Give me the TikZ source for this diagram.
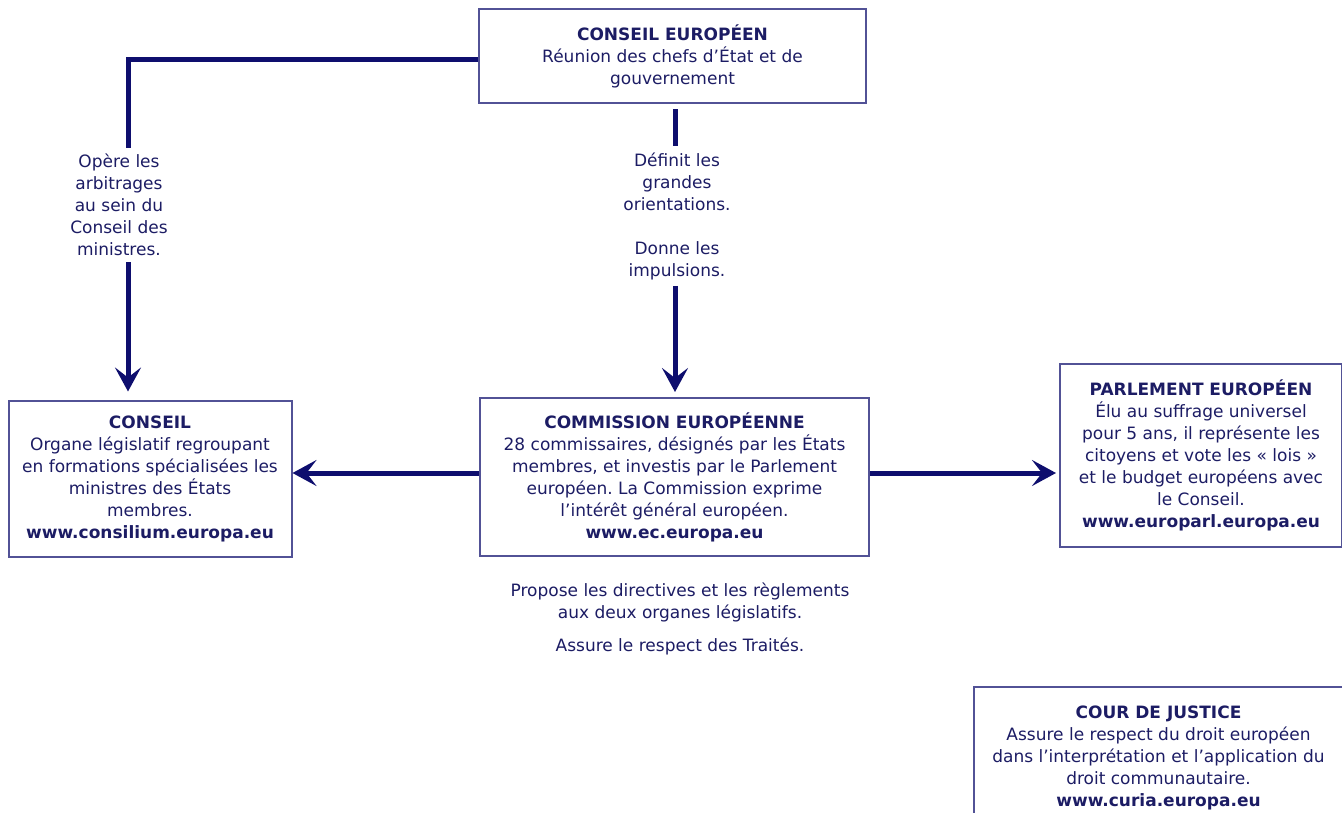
\documentclass[tikz,border=0pt]{standalone}
\usepackage{fontspec}
\setmainfont{DejaVu Sans}
\usepackage{tikz}
\usetikzlibrary{arrows.meta}
\definecolor{euNavy}{RGB}{14,14,110}
\definecolor{euText}{RGB}{28,28,100}
\definecolor{euFrame}{RGB}{82,82,150}
\frenchspacing
\begin{document}
\begin{tikzpicture}[x=1pt,y=-1pt]
	\path [use as bounding box, clip] (0,0) rectangle (1342,812);
	\begin{scope}[every node/.style = {draw=euFrame, line width=2pt, text=euText,
		align=center, inner sep=0pt, font=\fontsize{17}{22}\selectfont}]
		\node [minimum width=387, minimum height=94] (CE) at (672.5,56)
			{\textbf{CONSEIL EUROPÉEN}\\Réunion des chefs d’État et de\\gouvernement};
		\node [minimum width=283, minimum height=156] (CO) at (150,478.5)
			{\textbf{CONSEIL}\\Organe législatif regroupant\\en formations spécialisées les\\ministres des États\\membres.\\\textbf{www.consilium.europa.eu}};
		\node [minimum width=389, minimum height=158] (COM) at (674.5,477)
			{\textbf{COMMISSION EUROPÉENNE}\\28 commissaires, désignés par les États\\membres, et investis par le Parlement\\européen. La Commission exprime\\l’intérêt général européen.\\\textbf{www.ec.europa.eu}};
		\node [minimum width=282, minimum height=183] (PE) at (1201,455.5)
			{\textbf{PARLEMENT EUROPÉEN}\\Élu au suffrage universel\\pour 5 ans, il représente les\\citoyens et vote les « lois »\\et le budget européens avec\\le Conseil.\\\textbf{www.europarl.europa.eu}};
		\node [minimum width=369, minimum height=142] (CJ) at (1158.5,758)
			{\textbf{COUR DE JUSTICE}\\Assure le respect du droit européen\\dans l’interprétation et l’application du\\droit communautaire.\\\textbf{www.curia.europa.eu}};
	\end{scope}
	\begin{scope}[every node/.style = {fill=white, text=euText, align=center,
		inner sep=6pt, font=\fontsize{17}{22}\selectfont}]
		\node (L1) at (119,205) {Opère les\\arbitrages\\au sein du\\Conseil des\\ministres.};
		\node (L2) at (677,216) {Définit les\\grandes\\orientations.\\[22pt]Donne les\\impulsions.};
		\node (L3) at (680,619) {Propose les directives et les règlements\\aux deux organes législatifs.\\[11pt]Assure le respect des Traités.};
	\end{scope}
	\coordinate (K1) at (128,59);
	\begin{scope}[>={Stealth[length=24pt, width=26pt, inset=10pt]},
			draw=euNavy, line width=5pt,
			every edge/.style={draw=euNavy, line width=5pt}]
		\draw (CE.west |- K1) -- (K1) -- (K1 |- L1.north);
		\path [->, shorten >=8pt] (K1 |- L1.south) edge (K1 |- CO.north);
		\draw [shorten <=5pt] (CE.south -| 675,0) -- (L2.north -| 675,0);
		\path [->, shorten >=5pt] (L2.south -| 675,0) edge (COM.north -| 675,0);
		\path [->] (COM.west |- 0,473) edge (CO.east |- 0,473);
		\path [->, shorten >=3pt] (COM.east |- 0,473) edge (PE.west |- 0,473);
	\end{scope}
\end{tikzpicture}
\end{document}
